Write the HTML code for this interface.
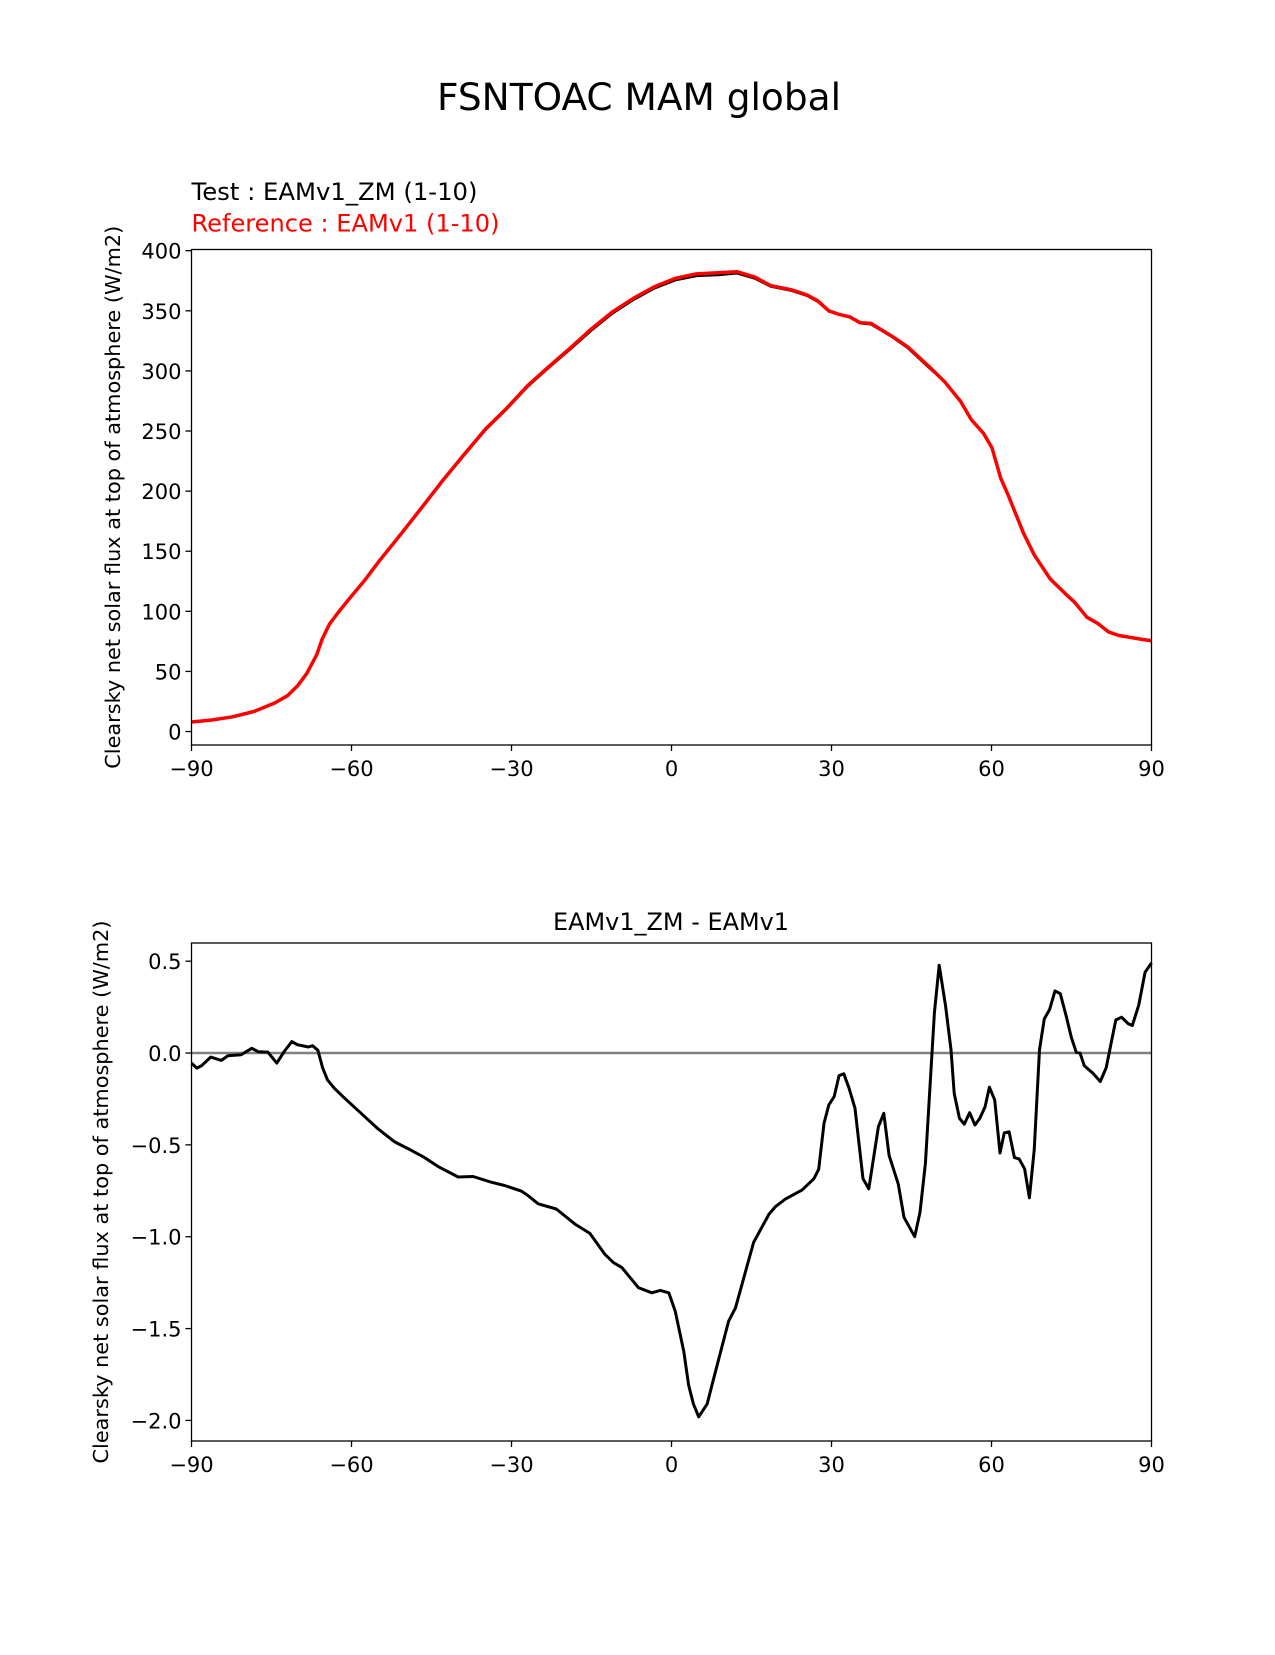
<!DOCTYPE html>
<html><head><meta charset="utf-8"><style>
body{margin:0;background:#fff;}
svg text{font-family:"DejaVu Sans","Liberation Sans",sans-serif;}
</style></head><body>
<svg id="fig" width="1275" height="1650" xmlns="http://www.w3.org/2000/svg">
<rect width="1275" height="1650" fill="#fff"/>
<text x="639" y="110" font-size="37" text-anchor="middle" textLength="404" lengthAdjust="spacingAndGlyphs">FSNTOAC MAM global</text>
<text x="191.5" y="200" font-size="24" textLength="286" lengthAdjust="spacingAndGlyphs">Test : EAMv1_ZM (1-10)</text>
<text x="191.5" y="231.5" font-size="24" fill="#ff0000" textLength="308" lengthAdjust="spacingAndGlyphs">Reference : EAMv1 (1-10)</text>
<text x="671" y="930" font-size="24" text-anchor="middle" textLength="236" lengthAdjust="spacingAndGlyphs">EAMv1_ZM - EAMv1</text>
<g id="topPanel"></g>
<g id="botPanel"></g>
</svg>
<script>
const refLat=[-90,-86.2,-82.3,-78.3,-74.4,-72,-70,-68.4,-66.5,-65.5,-64.1,-62.5,-60.5,-57.6,-54.6,-50.6,-46.7,-42.7,-38.8,-34.8,-30.9,-26.9,-23,-19,-15,-11.1,-7.1,-3.2,0.7,4.7,8.7,12.3,15.6,18.6,22.5,25.5,27.5,29.5,31.4,33.4,35.4,37.4,41.3,44.3,48.2,51.2,54.2,56.2,58.5,60.1,61.7,63.1,66,68,71,74,75.5,77.9,79.9,81.9,83.8,87.8,90];
const refVal=[7.9,9.6,12.3,16.7,23.7,29.8,38.6,48.2,64,77,89.5,99,110,125.4,143,165,187,210,231,252,269,288,303.5,319,335,349,360.5,370,377,380.7,381.6,382.5,378,371,367.5,363,358,350,347,345,340,339.5,329,320,304,291,274.6,259.6,248,236,211,197,165,147,127,114,108,95,90,83,80,77,75.4];
const testVal=[7.9,9.6,12.3,16.7,23.7,29.8,38.6,48.2,64,77,89.5,99,110,125.3,142.8,164.6,186.5,209.4,230.3,251.3,268.2,287.2,302.7,318,333.8,347.8,359.2,368.7,375.5,379,379.8,381.2,377,370.2,366.7,362.3,357.4,349.6,346.9,344.8,339.6,338.8,328.5,319.1,303,291.1,274.3,259.3,247.7,235.8,210.6,196.8,164.6,146.5,126.7,113.5,107.4,94.8,89.8,82.9,79.9,77.1,75.9];
const diffLat=[-90,-89,-88.1,-86.4,-84.4,-83.2,-80.7,-78.7,-77.5,-75.7,-74,-72.6,-71.2,-70.2,-68.1,-67.3,-66.3,-65.4,-64.5,-63.2,-61.3,-58.2,-55.1,-51.9,-49.4,-46.3,-43.8,-40,-37.2,-33.8,-31.3,-28.1,-26.9,-25,-21.6,-18.1,-15.3,-12.5,-10.9,-9.3,-6.2,-3.7,-2.1,-0.5,0.7,2.3,3.2,4.1,5.1,6.7,7.6,8.9,10.7,12,15.4,18.3,19.5,21.4,24.5,26.7,27.6,28.6,29.5,30.5,31.4,32.3,33.3,34.4,35.9,37,38.8,39.8,40.8,42.5,43.6,45.6,46.6,47.6,49.3,50.2,51.4,52.4,53,54,54.9,55.9,56.9,57.8,58.8,59.6,60.6,61.6,62.4,63.3,64.3,65.2,66.2,67.1,68,69,69.9,70.9,71.9,72.9,74,75,75.9,76.6,77.4,79,80.4,81.5,83.3,84.4,85.6,86.4,87.6,88.8,90];
const diffVal=[-0.055,-0.082,-0.069,-0.022,-0.04,-0.015,-0.009,0.026,0.007,0.005,-0.055,0.009,0.062,0.046,0.033,0.04,0.015,-0.082,-0.146,-0.192,-0.246,-0.328,-0.411,-0.484,-0.52,-0.569,-0.617,-0.675,-0.672,-0.703,-0.721,-0.752,-0.776,-0.821,-0.849,-0.931,-0.982,-1.095,-1.141,-1.168,-1.277,-1.305,-1.292,-1.305,-1.405,-1.624,-1.807,-1.91,-1.98,-1.91,-1.807,-1.66,-1.46,-1.387,-1.031,-0.876,-0.836,-0.794,-0.745,-0.684,-0.633,-0.383,-0.283,-0.237,-0.124,-0.113,-0.192,-0.301,-0.684,-0.739,-0.401,-0.328,-0.557,-0.712,-0.894,-1.0,-0.867,-0.602,0.219,0.478,0.255,0.018,-0.219,-0.356,-0.387,-0.325,-0.392,-0.356,-0.292,-0.186,-0.255,-0.544,-0.434,-0.429,-0.569,-0.577,-0.63,-0.788,-0.529,0.018,0.186,0.237,0.338,0.323,0.201,0.082,0.004,0,-0.069,-0.109,-0.155,-0.08,0.18,0.195,0.16,0.15,0.26,0.44,0.49];
const xTicks=[-90,-60,-30,0,30,60,90];
const xTickLabels=["\u221290","\u221260","\u221230","0","30","60","90"];
const topYTicks=[0,50,100,150,200,250,300,350,400];
const topYTickLabels=["0","50","100","150","200","250","300","350","400"];
const botYTicks=[-2,-1.5,-1,-0.5,0,0.5];
const botYTickLabels=["\u22122.0","\u22121.5","\u22121.0","\u22120.5","0.0","0.5"];

const NS="http://www.w3.org/2000/svg";
function mk(tag,attrs,parent){const e=document.createElementNS(NS,tag);for(const k in attrs)e.setAttribute(k,attrs[k]);parent.appendChild(e);return e;}
const L=191.5,R=1151.5;
function xs(v){return L+(v+90)/180*(R-L);}
function panel(g,T,B,ymin,ymax,yt,ytl,ylab){
  const ys=v=>B-(v-ymin)/(ymax-ymin)*(B-T);
  xTicks.forEach((t,i)=>{
    const tk=mk('line',{x1:xs(t),x2:xs(t),y1:B,y2:B+6,stroke:'#000','stroke-width':1.3},g);
    
    
    const tx=mk('text',{x:xs(t),y:B+31,'font-size':21,'text-anchor':'middle'},g);
    tx.textContent=xTickLabels[i];
    
    
  });
  yt.forEach((t,i)=>{
    const tk=mk('line',{x1:L-6,x2:L,y1:ys(t),y2:ys(t),stroke:'#000','stroke-width':1.3},g);
    
    
    const tx=mk('text',{x:L-10,y:ys(t)+8,'font-size':21,'text-anchor':'end'},g);
    tx.textContent=ytl[i];
    
    
  });
  const yl=mk('text',{x:0,y:0,'font-size':20,'text-anchor':'middle',textLength:543,lengthAdjust:'spacingAndGlyphs',transform:`translate(${ylab},${(T+B)/2}) rotate(-90)`},g);
  yl.textContent='Clearsky net solar flux at top of atmosphere (W/m2)';
  
  
  return ys;
}
function line(g,lat,val,xsF,ysF,color,w,name){
  const d=lat.map((x,i)=>(i?'L':'M')+xsF(x).toFixed(1)+','+ysF(val[i]).toFixed(1)).join('');
  const p=mk('path',{d:d,fill:'none',stroke:color,'stroke-width':w,'stroke-linejoin':'round'},g);
  
  
}
const gTop=document.getElementById('topPanel');
const T1=249.5,B1=745;
const ys1=panel(gTop,T1,B1,-11.2,401,topYTicks,topYTickLabels,120);
line(gTop,refLat,testVal,xs,ys1,'#000000',2.5,'test-line');
line(gTop,refLat,refVal,xs,ys1,'#ff0000',3.5,'reference-line');
const f1=mk('rect',{x:L,y:T1,width:R-L,height:B1-T1,fill:'none',stroke:'#000','stroke-width':1.3},gTop);



const gBot=document.getElementById('botPanel');
const T2=943,B2=1441;
const ys2=panel(gBot,T2,B2,-2.112,0.599,botYTicks,botYTickLabels,108);
const z=mk('line',{x1:L,x2:R,y1:ys2(0),y2:ys2(0),stroke:'#808080','stroke-width':2.5},gBot);


line(gBot,diffLat,diffVal,xs,ys2,'#000000',3,'difference-line');
const f2=mk('rect',{x:L,y:T2,width:R-L,height:B2-T2,fill:'none',stroke:'#000','stroke-width':1.3},gBot);


</script>
</body></html>
